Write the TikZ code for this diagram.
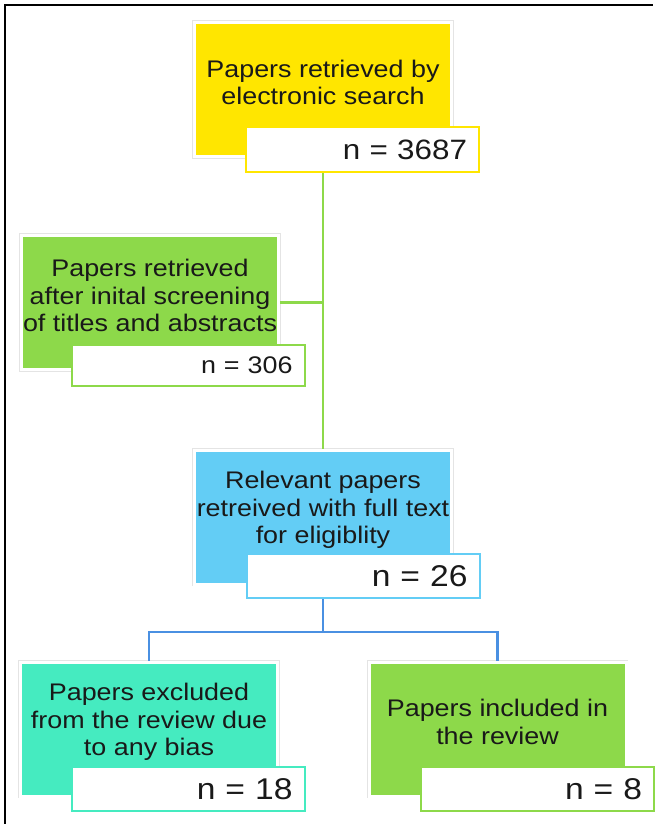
\documentclass[tikz,border=0pt]{standalone}
\usepackage{fontspec}
\setmainfont{Liberation Sans}
\newfontfamily\boxfont{Liberation Sans}[FakeStretch=1.12]
\usepackage{tikz}
\usetikzlibrary{positioning, calc}
\definecolor{SearchYellow}{RGB}{255, 230, 0}
\definecolor{ScreenGreen}{RGB}{141, 217, 74}
\definecolor{FullBlue}{RGB}{99, 205, 245}
\definecolor{BiasTeal}{RGB}{69, 235, 192}
\definecolor{LinkBlue}{RGB}{74, 144, 226}
\definecolor{RimGrey}{RGB}{228, 228, 228}

\begin{document}
\begin{tikzpicture}[
  x=1pt, y=-1pt,
  box/.style={
    rectangle, inner sep=0pt,
    minimum width=257pt, minimum height=134pt,
    draw=white, line width=3pt,
    preaction={draw=RimGrey, line width=4.5pt}
  },
  txt/.style={align=center, text=black!90,
    font=\boxfont\fontsize{24}{27.5}\selectfont},
  nbox/.style={
    rectangle, fill=white, line width=2pt, inner sep=0pt,
    minimum width=233pt, minimum height=44pt,
    text width=209pt, align=right, anchor=south east, text=black!90,
    font=\boxfont\fontsize{30}{32}\selectfont
  },
  gline/.style={line width=2.5pt, color=ScreenGreen},
  bline/.style={line width=2.5pt, color=LinkBlue}
]
  \useasboundingbox (0,0) rectangle (662,824);
  \draw[line width=2pt] (5,824) -- (5,5) -- (653,5);

  % stages
  \node[box, fill=SearchYellow] (search) at (323,89.5) {};
  \node[box, fill=ScreenGreen]  (screen) at (150,302.5) {};
  \node[box, fill=FullBlue]     (full)   at (323,517) {};
  \node[box, fill=BiasTeal]     (excl)   at (149,729) {};
  \node[box, fill=ScreenGreen]  (incl)   at (497.5,729) {};

  \node[txt] (searchtxt) at ([yshift=7pt]search.center) {Papers retrieved by\\electronic search};
  \node[txt] (screentxt) at ([yshift=7pt]screen.center) {Papers retrieved\\after inital screening\\of titles and abstracts};
  \node[txt] (fulltxt)   at ([yshift=7pt]full.center)   {Relevant papers\\retreived with full text\\for eligiblity};
  \node[txt] (excltxt)   at ([yshift=7pt]excl.center)   {Papers excluded\\from the review due\\to any bias};
  \node[txt] (incltxt)   at ([yshift=7pt]incl.center)   {Papers included in\\the review};

  % links
  \draw[gline] (search.south) -- (full.north);
  \draw[gline] (screen.east) -- (screen.east -| search.south);
  \coordinate (fork) at ($(full.south)+(0,46.5)$);
  \draw[bline] (full.south) -- (fork);
  \draw[bline] (fork) -| (excl.north);
  \draw[bline] (fork) -| (incl.north);

  % counts
  \node[nbox, draw=SearchYellow, font=\boxfont\fontsize{28}{30}\selectfont]
    (searchn) at ($(search.south east)+(27,14.5)$) {n = 3687};
  \node[nbox, draw=ScreenGreen, minimum height=41pt, font=\boxfont\fontsize{24}{26}\selectfont]
    (screenn) at ($(screen.south east)+(25.5,15.5)$) {n = 306};
  \node[nbox, draw=FullBlue] (fulln) at ($(full.south east)+(27.5,13.5)$) {n = 26};
  \node[nbox, draw=BiasTeal] (excln) at ($(excl.south east)+(26.5,14.5)$) {n = 18};
  \node[nbox, draw=ScreenGreen] (incln) at ($(incl.south east)+(27.5,14.5)$) {n = 8};
\end{tikzpicture}
\end{document}
